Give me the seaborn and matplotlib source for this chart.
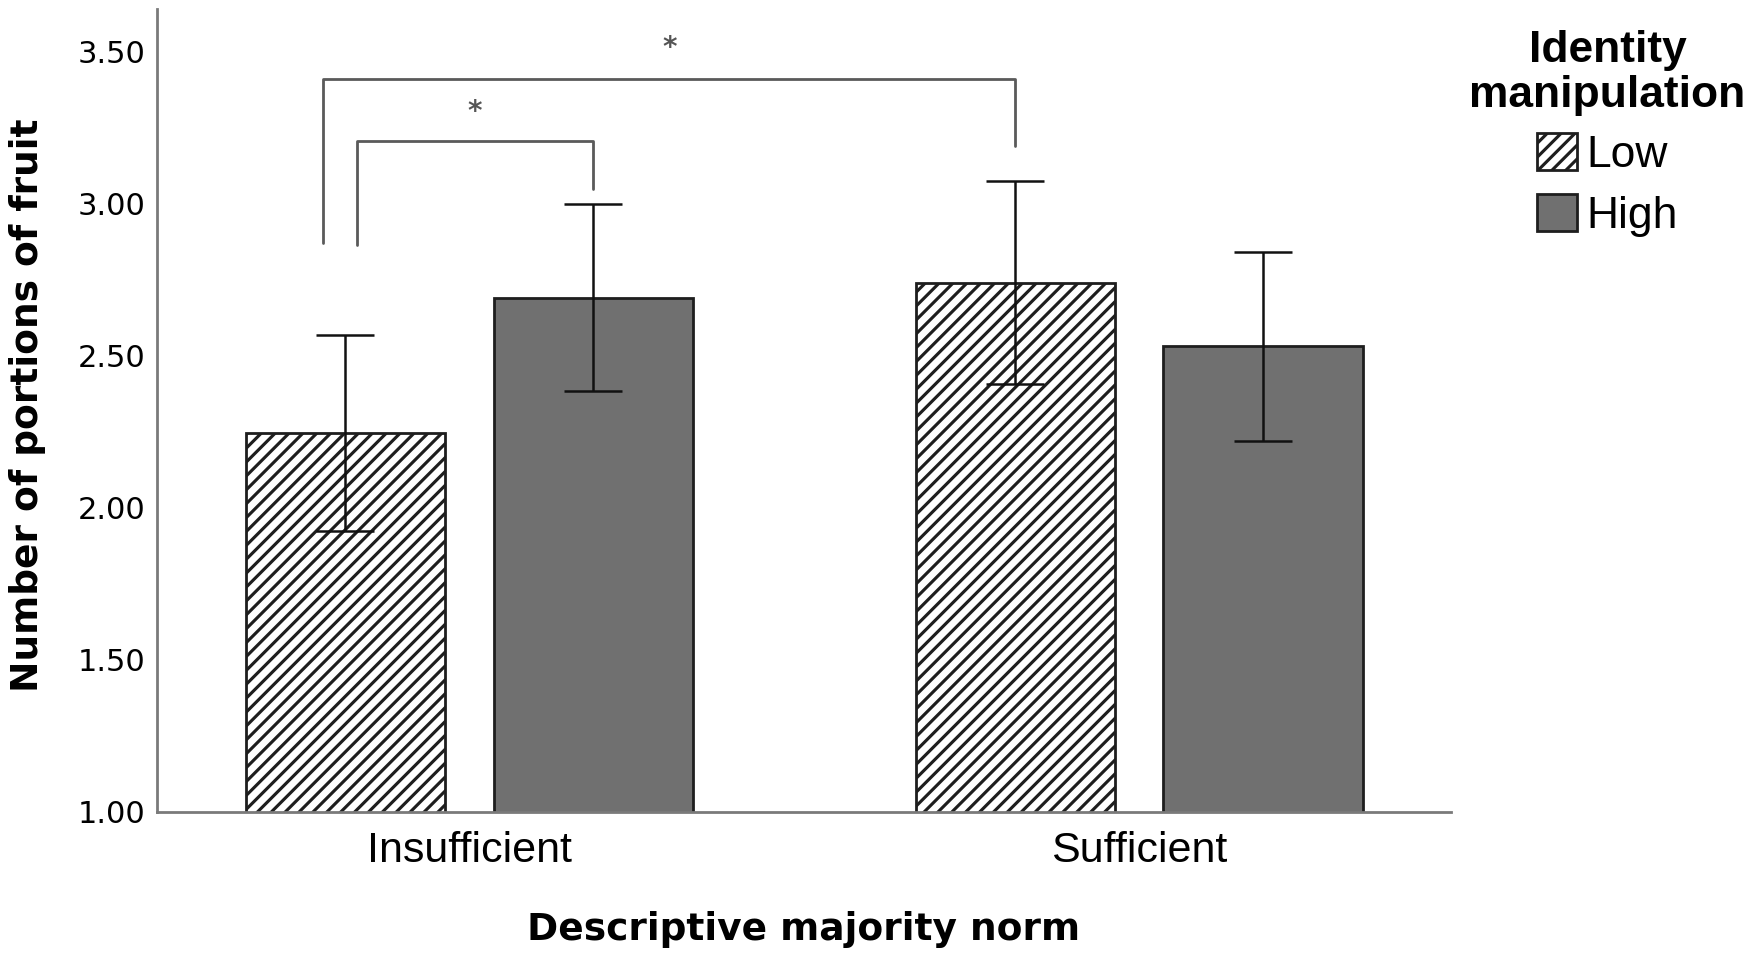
import pandas as pd
import matplotlib
matplotlib.use('Agg')
import matplotlib.pyplot as plt
import seaborn as sns

# Values
norm_levels = ['Insufficient', 'Sufficient']
identity_levels = ['Low', 'High']
mean_low = [2.245, 2.740]
mean_high = [2.690, 2.530]
ci_low = [0.322, 0.335]
ci_high = [0.308, 0.311]
yticks = [1.00, 1.50, 2.00, 2.50, 3.00, 3.50]

# significance brackets: (top, left leg end, right leg end) in data units
bracket_inner = [3.205, 2.863, 3.047]
bracket_outer = [3.408, 2.870, 3.190]
star_y = [3.30, 3.51]

DPI = 125
S = 100 / DPI  # sizes below were worked out for 100 dpi

sns.set_style('white')
plt.rcParams['font.family'] = ['Liberation Sans', 'DejaVu Sans']
plt.rcParams['text.color'] = 'black'
plt.rcParams['xtick.color'] = 'black'
plt.rcParams['ytick.color'] = 'black'
plt.rcParams['axes.labelcolor'] = 'black'
plt.rcParams['hatch.linewidth'] = 1.8
plt.rcParams['hatch.color'] = '#111111'

df = pd.DataFrame({
    'norm': norm_levels * 2,
    'identity': [identity_levels[0]] * 2 + [identity_levels[1]] * 2,
    'mean': mean_low + mean_high,
    'ci': ci_low + ci_high,
})

fig = plt.figure(figsize=(1753 / DPI, 962 / DPI), dpi=DPI)
ax = fig.add_axes([0.0893, 0.156, 0.7385, 0.835])

sns.barplot(data=df, x='norm', y='mean', hue='identity', order=norm_levels,
            hue_order=identity_levels, palette=['white', '#707070'],
            width=0.740, gap=0.196, edgecolor='#1e1e1e', linewidth=2 * S,
            errorbar=None, legend=False, ax=ax)

# hatch the Low bars
for p in ax.containers[0]:
    p.set_hatch('///')

# error bars on bar centres
centers = {}
for lvl, cont, means, cis in zip(identity_levels, ax.containers,
                                 [mean_low, mean_high], [ci_low, ci_high]):
    xs = [p.get_x() + p.get_width() / 2 for p in cont]
    centers[lvl] = xs
    ax.errorbar(xs, means, yerr=cis, fmt='none', ecolor='#111111',
                elinewidth=1.8 * S, capsize=21 * S, capthick=1.8 * S, zorder=5)

# brackets
bc = '#5a5a5a'
x0, x1 = centers['Low'][0] + 0.017, centers['High'][0]
ax.plot([x0, x0, x1, x1], [bracket_inner[1], bracket_inner[0], bracket_inner[0], bracket_inner[2]],
        color=bc, lw=2.0 * S, clip_on=False)
ax.text((x0 + x1) / 2, star_y[0], '*', ha='center', va='center', fontsize=20 * S,
        color='#555555', family='DejaVu Sans', fontweight='bold')
xo0 = centers['Low'][0] - 0.033
xo1 = centers['Low'][1]
ax.plot([xo0, xo0, xo1, xo1], [bracket_outer[1], bracket_outer[0], bracket_outer[0], bracket_outer[2]],
        color=bc, lw=2.0 * S, clip_on=False)
ax.text((xo0 + xo1) / 2, star_y[1], '*', ha='center', va='center', fontsize=20 * S,
        color='#555555', family='DejaVu Sans', fontweight='bold')

ax.set_xlim(-0.467, 1.466)
ax.set_ylim(1.0, 3.64)
ax.set_yticks(yticks)
ax.set_yticklabels([f'{v:.2f}' for v in yticks], fontsize=22 * S, family='DejaVu Sans')
ax.set_xticks(range(len(norm_levels)))
ax.set_xticklabels(norm_levels, fontsize=31 * S)
ax.tick_params(axis='y', length=0, pad=8 * S)
ax.tick_params(axis='x', length=0, pad=14 * S)

sns.despine(ax=ax)
for side in ['left', 'bottom']:
    ax.spines[side].set_color('#7a7a7a')
    ax.spines[side].set_linewidth(2 * S)

ax.set_ylabel('Number of portions of fruit', fontsize=27 * S, fontweight='bold', family='DejaVu Sans')
ax.yaxis.label.set_verticalalignment('center')
ax.yaxis.set_label_coords(-0.100, 0.506)
ax.set_xlabel('Descriptive majority norm', fontsize=27 * S, fontweight='bold', family='DejaVu Sans')
ax.xaxis.label.set_verticalalignment('center')
ax.xaxis.set_label_coords(0.5, -0.146)

leg = fig.legend(handles=[ax.containers[0][0], ax.containers[1][0]], labels=identity_levels,
                 title='Identity\nmanipulation', loc='upper center', bbox_to_anchor=(0.917, 1.01),
                 frameon=False, fontsize=32 * S, alignment='center',
                 handlelength=0.9, handleheight=0.9, handletextpad=0.2, labelspacing=0.4)
title = leg.get_title()
title.set_fontweight('bold')
title.set_fontsize(32 * S)
title.set_linespacing(1.1)
title.set_multialignment('center')

fig.savefig('out.png', dpi=DPI)
